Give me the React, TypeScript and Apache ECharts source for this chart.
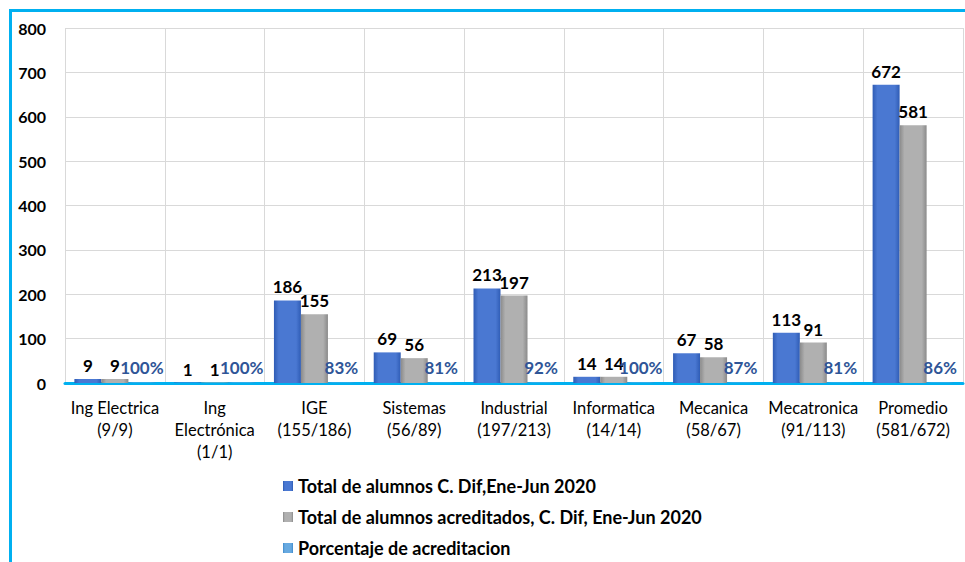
import React, { useEffect, useRef } from "react";
import * as echarts from "echarts";

const categories = [
  "Ing Electrica\n(9/9)",
  "Ing\nElectrónica\n(1/1)",
  "IGE\n(155/186)",
  "Sistemas\n(56/89)",
  "Industrial\n(197/213)",
  "Informatica\n(14/14)",
  "Mecanica\n(58/67)",
  "Mecatronica\n(91/113)",
  "Promedio\n(581/672)",
];
const totalAlumnos = [9, 1, 186, 69, 213, 14, 67, 113, 672];
const acreditados = [9, 1, 155, 56, 197, 14, 58, 91, 581];
const porcentaje = [1.0, 1.0, 0.83, 0.81, 0.92, 1.0, 0.87, 0.81, 0.86];
const seriesNames = [
  "Total de alumnos C. Dif,Ene-Jun 2020",
  "Total de alumnos acreditados, C. Dif, Ene-Jun 2020",
  "Porcentaje de acreditacion",
];
const yTicks = [0, 800, 100];

const FONT = "Lato, 'Liberation Sans', sans-serif";

function grad(edge: string, mid: string) {
  return new echarts.graphic.LinearGradient(0, 0, 1, 0, [
    { offset: 0, color: edge },
    { offset: 0.18, color: mid },
    { offset: 0.82, color: mid },
    { offset: 1, color: edge },
  ]);
}

export default function App() {
  const ref = useRef<HTMLDivElement>(null);
  useEffect(() => {
    const chart = echarts.init(ref.current!, null, { renderer: "svg" });
    const valueLabel = {
      show: true,
      position: "top",
      distance: 5,
      color: "#000",
      fontWeight: "bold",
      fontSize: 17,
      fontFamily: FONT,
    };
    chart.setOption({
      animation: false,
      backgroundColor: "#fff",
      textStyle: { fontFamily: FONT },
      graphic: [
        { type: "line", shape: { x1: 10, y1: 10.5, x2: 965, y2: 10.5 }, style: { stroke: "#00B0F0", lineWidth: 3 } },
        { type: "line", shape: { x1: 10.5, y1: 9, x2: 10.5, y2: 562 }, style: { stroke: "#00B0F0", lineWidth: 3 } },
      ],
      grid: { left: 65, right: 2, top: 28, bottom: 179, containLabel: false },
      legend: {
        orient: "vertical",
        left: 278,
        top: 472,
        itemGap: 13,
        itemWidth: 10,
        itemHeight: 10,
        textStyle: { fontWeight: "bold", fontSize: 18, color: "#000", fontFamily: FONT },
        data: seriesNames.map((n) => ({ name: n, icon: "rect" })),
      },
      xAxis: {
        type: "category",
        data: categories,
        axisLine: { lineStyle: { color: "#00B0F0", width: 3 } },
        axisTick: { show: false },
        splitLine: { show: true, lineStyle: { color: "#D9D9D9", width: 1 } },
        axisLabel: {
          color: "#000",
          fontSize: 16.5,
          lineHeight: 22,
          margin: 14,
          interval: 0,
          fontFamily: FONT,
        },
      },
      yAxis: {
        type: "value",
        min: yTicks[0],
        max: yTicks[1],
        interval: yTicks[2],
        axisLine: { show: false },
        axisTick: { show: false },
        splitLine: { lineStyle: { color: "#D9D9D9", width: 1 } },
        axisLabel: { color: "#000", fontWeight: "bold", fontSize: 16, margin: 19, fontFamily: FONT },
      },
      series: [
        {
          name: seriesNames[0],
          type: "bar",
          data: totalAlumnos,
          barWidth: 27,
          barGap: "0%",
          itemStyle: { color: grad("#2F5CB5", "#4A78D2") },
          label: valueLabel,
        },
        {
          name: seriesNames[1],
          type: "bar",
          data: acreditados,
          barWidth: 27,
          barGap: "0%",
          itemStyle: { color: grad("#8A8A8A", "#B0B0B0") },
          label: valueLabel,
        },
        {
          name: seriesNames[2],
          type: "bar",
          data: porcentaje,
          barWidth: 27,
          barGap: "0%",
          itemStyle: { color: grad("#3F8ACB", "#67A9E0") },
          label: {
            show: true,
            position: "top",
            distance: 7,
            color: "#2F5597",
            fontWeight: "bold",
            fontSize: 17,
            fontFamily: FONT,
            formatter: (p: any) => Math.round(p.value * 100) + "%",
          },
        },
      ],
    });
    return () => chart.dispose();
  }, []);
  return (
    <div
      ref={ref}
      style={{ position: "fixed", left: 0, top: 0, width: 965, height: 562 }}
    />
  );
}
